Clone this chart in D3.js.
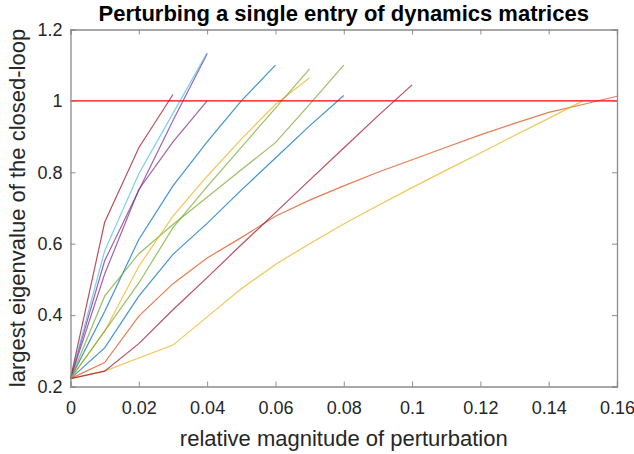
<!DOCTYPE html>
<html>
<head>
<meta charset="utf-8">
<script src="https://cdn.jsdelivr.net/npm/d3@7.9.0/dist/d3.min.js"></script>
<style>
  body { margin: 0; background: #fff; }
  svg { display: block; font-family: "Liberation Sans", Arial, Helvetica, sans-serif; }
</style>
</head>
<body>
<svg id="chart" width="634" height="454"></svg>
<script>
// relative magnitude of perturbation, one step per sample
const perturbation = [0, 0.01, 0.02, 0.03, 0.04, 0.05, 0.06, 0.07, 0.08,
                      0.09, 0.1, 0.11, 0.12, 0.13, 0.14, 0.15, 0.16];

// largest closed-loop eigenvalue, each series stops once it passes 1
const blueA     = [0.222, 0.41, 0.612, 0.762, 0.885, 1.0, 1.1];
const orange    = [0.222, 0.267, 0.397, 0.488, 0.56, 0.617, 0.677, 0.722, 0.762,
                   0.80, 0.835, 0.87, 0.905, 0.937, 0.968, 0.99, 1.013];
const yellowLow = [0.222, 0.243, 0.28, 0.316, 0.395, 0.474, 0.542, 0.60, 0.655,
                   0.707, 0.757, 0.806, 0.854, 0.903, 0.951, 1.0];
const purpleA   = [0.222, 0.552, 0.75, 0.945, 1.132];
const greenA    = [0.222, 0.453, 0.572, 0.654, 0.73, 0.807, 0.883, 0.99, 1.1];
const lightBlue = [0.222, 0.58, 0.796, 0.965, 1.135];
const darkRedA  = [0.222, 0.66, 0.869, 1.018];
const blueB     = [0.222, 0.308, 0.453, 0.57, 0.657, 0.75, 0.84, 0.93, 1.015];
const yellowUp  = [0.222, 0.355, 0.537, 0.677, 0.789, 0.893, 0.99, 1.065];
const purpleB   = [0.222, 0.515, 0.752, 0.885, 1.0];
const greenB    = [0.222, 0.355, 0.49, 0.645, 0.76, 0.87, 0.98, 1.09];
const darkRedB  = [0.222, 0.243, 0.32, 0.415, 0.505, 0.597, 0.687, 0.778, 0.868, 0.958, 1.045];

const series = [
  { values: blueA, color: "#0072BD" },
  { values: orange, color: "#D95319" },
  { values: yellowLow, color: "#EDB120" },
  { values: purpleA, color: "#7E2F8E" },
  { values: greenA, color: "#77AC30" },
  { values: lightBlue, color: "#4DBEEE" },
  { values: darkRedA, color: "#A2142F" },
  { values: blueB, color: "#0072BD" },
  { values: yellowUp, color: "#EDB120" },
  { values: purpleB, color: "#7E2F8E" },
  { values: greenB, color: "#77AC30" },
  { values: darkRedB, color: "#A2142F" },
];

const threshold = 1;
const xTicks = [0, 0.02, 0.04, 0.06, 0.08, 0.1, 0.12, 0.14, 0.16];
const yTicks = [0.2, 0.4, 0.6, 0.8, 1, 1.2];

const margin = { top: 29.5, right: 17, bottom: 67.5, left: 70.5 };
const width = 634, height = 454;
const svg = d3.select("#chart");

const x = d3.scaleLinear().domain([0, 0.16]).range([margin.left, width - margin.right]);
const y = d3.scaleLinear().domain([0.2, 1.2]).range([height - margin.bottom, margin.top]);

const axisColor = "#8c8c8c";
const textColor = "#262626";

// plot lines
const line = d3.line()
  .x((d, i) => x(perturbation[i]))
  .y((d) => y(d));

svg.append("g")
  .selectAll("path")
  .data(series)
  .join("path")
  .attr("d", (d) => line(d.values))
  .attr("fill", "none")
  .attr("stroke", (d) => d.color)
  .attr("stroke-opacity", 0.75)
  .attr("stroke-width", 1.2);

// threshold line at 1
svg.append("line")
  .attr("x1", x(0)).attr("x2", x(0.16))
  .attr("y1", y(threshold)).attr("y2", y(threshold))
  .attr("stroke", "#ff0000")
  .attr("stroke-width", 1.2);

// axes, ticks inside on all four sides
const tickSize = 5;
const fmt = (d) => d3.format("~g")(d);

const axisB = svg.append("g")
  .attr("transform", `translate(0,${y(0.2)})`)
  .call(d3.axisBottom(x).tickValues(xTicks).tickSize(-tickSize).tickPadding(15).tickFormat(fmt));
const axisT = svg.append("g")
  .attr("transform", `translate(0,${y(1.2)})`)
  .call(d3.axisTop(x).tickValues(xTicks).tickSize(-tickSize).tickFormat(""));
const axisL = svg.append("g")
  .attr("transform", `translate(${x(0)},0)`)
  .call(d3.axisLeft(y).tickValues(yTicks).tickSize(-tickSize).tickPadding(8).tickFormat(fmt));
const axisR = svg.append("g")
  .attr("transform", `translate(${x(0.16)},0)`)
  .call(d3.axisRight(y).tickValues(yTicks).tickSize(-tickSize).tickFormat(""));

[axisB, axisT, axisL, axisR].forEach((g) => {
  g.select(".domain").attr("stroke", axisColor).attr("stroke-width", 1.3);
  g.selectAll(".tick line").attr("stroke", axisColor).attr("stroke-width", 1);
  g.selectAll(".tick text").attr("fill", textColor).attr("font-size", 18).attr("font-family", null);
});

// labels
svg.append("text")
  .attr("x", (x(0) + x(0.16)) / 2)
  .attr("y", 21)
  .attr("text-anchor", "middle")
  .attr("font-size", 22)
  .attr("font-weight", "bold")
  .attr("fill", "#000")
  .text("Perturbing a single entry of dynamics matrices");

svg.append("text")
  .attr("x", (x(0) + x(0.16)) / 2)
  .attr("y", 446)
  .attr("text-anchor", "middle")
  .attr("font-size", 22)
  .attr("fill", textColor)
  .text("relative magnitude of perturbation");

svg.append("text")
  .attr("transform", `translate(25,${(y(0.2) + y(1.2)) / 2}) rotate(-90)`)
  .attr("text-anchor", "middle")
  .attr("font-size", 22)
  .attr("fill", textColor)
  .text("largest eigenvalue of the closed-loop");
</script>
</body>
</html>
